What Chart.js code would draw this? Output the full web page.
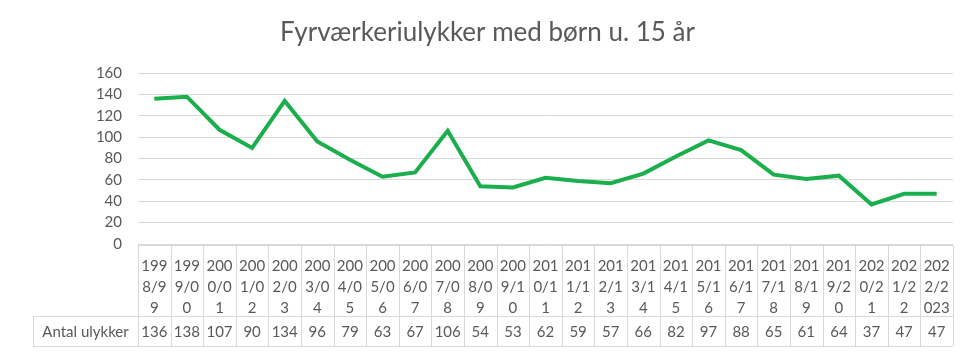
<!DOCTYPE html>
<html>
<head>
<meta charset="utf-8">
<script src="https://cdn.jsdelivr.net/npm/chart.js@4/dist/chart.umd.min.js"></script>
<style>
  html, body { margin: 0; padding: 0; background: #ffffff; }
  #wrap { width: 975px; height: 356px; position: relative; }
</style>
</head>
<body>
<div id="wrap"><canvas id="c" width="975" height="356"></canvas></div>
<script>
const categories = ["1998/99","1999/00","2000/01","2001/02","2002/03","2003/04","2004/05","2005/06","2006/07","2007/08","2008/09","2009/10","2010/11","2011/12","2012/13","2013/14","2014/15","2015/16","2016/17","2017/18","2018/19","2019/20","2020/21","2021/22","2022/2023"];
const seriesName = "Antal ulykker";
const values = [136,138,107,90,134,96,79,63,67,106,54,53,62,59,57,66,82,97,88,65,61,64,37,47,47];
const yTicks = [0,20,40,60,80,100,120,140,160];
const titleText = "Fyrværkeriulykker med børn u. 15 år";

const FONT = "Lato, 'Open Sans', sans-serif";
const TEXT = "#595959";
const LINE = "#d9d9d9";

function chunk(s) {
  const out = [];
  for (let i = 0; i < s.length; i += 3) out.push(s.slice(i, i + 3));
  return out;
}

const tablePlugin = {
  id: "dataTable",
  afterDraw(chart) {
    const ctx = chart.ctx;
    const xs = chart.scales.x;
    const ca = chart.chartArea;
    const n = categories.length;
    const w = (xs.getPixelForValue(n - 1) - xs.getPixelForValue(0)) / (n - 1);
    const left = xs.getPixelForValue(0) - w / 2;
    const right = xs.getPixelForValue(n - 1) + w / 2;
    const top = ca.bottom + 1;
    const mid = top + 71;
    const bot = mid + 30;
    const labLeft = 33;
    ctx.save();
    ctx.strokeStyle = LINE;
    ctx.lineWidth = 1;
    ctx.beginPath();
    ctx.moveTo(left, top + 0.5); ctx.lineTo(right, top + 0.5);
    ctx.moveTo(labLeft, mid + 0.5); ctx.lineTo(right, mid + 0.5);
    ctx.moveTo(labLeft, bot + 0.5); ctx.lineTo(right, bot + 0.5);
    for (let i = 0; i <= n; i++) {
      const x = Math.round(left + i * w) + 0.5;
      ctx.moveTo(x, top); ctx.lineTo(x, bot);
    }
    ctx.moveTo(labLeft + 0.5, mid); ctx.lineTo(labLeft + 0.5, bot);
    ctx.stroke();
    ctx.fillStyle = TEXT;
    ctx.font = "15px " + FONT;
    ctx.textAlign = "center";
    ctx.textBaseline = "middle";
    const ty = (mid + bot) / 2 + 1;
    for (let i = 0; i < n; i++) {
      ctx.fillText(String(values[i]), xs.getPixelForValue(i), ty);
    }
    ctx.fillText(seriesName, (labLeft + left) / 2, ty);
    ctx.restore();
  }
};

new Chart(document.getElementById("c"), {
  type: "line",
  data: {
    labels: categories.map(chunk),
    datasets: [{
      label: seriesName,
      data: values,
      borderColor: "#1aaf4c",
      borderWidth: 4,
      pointRadius: 0,
      tension: 0,
      fill: false
    }]
  },
  options: {
    responsive: false,
    animation: false,
    devicePixelRatio: 1,
    layout: { padding: { left: 0, right: 0, top: 0, bottom: 40 } },
    plugins: {
      legend: { display: false },
      tooltip: { enabled: false },
      title: {
        display: true,
        text: titleText,
        color: TEXT,
        font: { family: FONT, size: 26, weight: "normal" },
        padding: { top: 17, bottom: 25 }
      }
    },
    scales: {
      x: {
        offset: true,
        grid: { display: false, offset: true },
        border: { display: false },
        ticks: {
          color: TEXT,
          font: { family: FONT, size: 15, lineHeight: 1.4 },
          maxRotation: 0,
          minRotation: 0,
          autoSkip: false,
          padding: 4
        },
        afterFit(scale) { scale.height = 72; }
      },
      y: {
        min: 0,
        max: 160,
        afterBuildTicks(scale) { scale.ticks = yTicks.map(v => ({ value: v })); },
        grid: { color: LINE, drawTicks: false },
        border: { display: false },
        ticks: {
          color: TEXT,
          font: { family: FONT, size: 15 },
          padding: 16
        },
        afterFit(scale) { scale.width = 138; }
      },
      yRightMargin: {
        position: "right",
        display: true,
        grid: { display: false, drawTicks: false },
        border: { display: false },
        ticks: { display: false },
        afterFit(scale) { scale.width = 22; }
      }
    }
  },
  plugins: [tablePlugin]
});
</script>
</body>
</html>
